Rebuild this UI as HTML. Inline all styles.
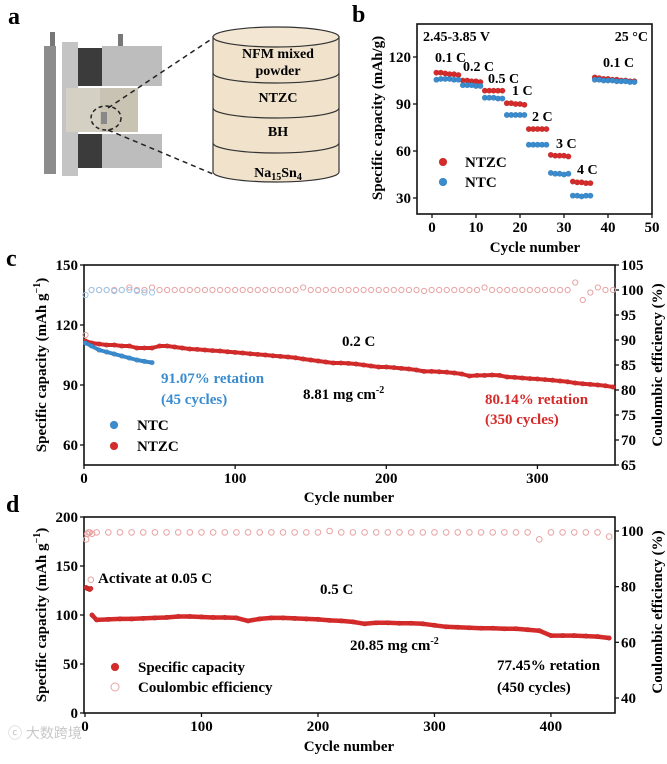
<!DOCTYPE html>
<html><head><meta charset="utf-8"><style>
html,body{margin:0;padding:0;background:#fff;}
svg{display:block;font-family:"Liberation Serif","Noto Serif CJK SC",serif;font-weight:bold;}
</style></head><body>
<svg id="fig" width="667" height="764" viewBox="0 0 667 764" xmlns="http://www.w3.org/2000/svg">
<g>
<text x="8" y="24" font-size="24">a</text>
<g>
<rect x="50" y="32" width="5" height="16" fill="#777"/>
<rect x="118" y="34" width="5" height="16" fill="#777"/>
<rect x="44" y="46" width="12" height="128" fill="#8c8c8c"/>
<rect x="62" y="42" width="16" height="134" fill="#c4c4c4"/>
<rect x="78" y="48" width="24" height="38" fill="#3b3b3b"/>
<rect x="102" y="46" width="60" height="40" fill="#bdbdbd"/>
<rect x="66" y="88" width="72" height="44" fill="#d5d0c4"/>
<rect x="100" y="88" width="38" height="44" fill="#c9c3b4"/>
<rect x="78" y="134" width="24" height="34" fill="#3b3b3b"/>
<rect x="102" y="134" width="60" height="34" fill="#bdbdbd"/>
<rect x="101" y="112" width="6" height="12" fill="#888"/>
<ellipse cx="106" cy="118" rx="15" ry="12" fill="none" stroke="#222" stroke-width="1.5" stroke-dasharray="4,3"/>
<line x1="108" y1="108" x2="213" y2="38" stroke="#222" stroke-width="1.5" stroke-dasharray="5,4"/>
<line x1="108" y1="130" x2="213" y2="174" stroke="#222" stroke-width="1.5" stroke-dasharray="5,4"/>
</g>
<g>
<path d="M213,37 L213,172 A63,10 0 0 0 339,172 L339,37 Z" fill="#f1e2cb" stroke="#333" stroke-width="1.2"/>
<ellipse cx="276" cy="37" rx="63" ry="10" fill="#f3e6d2" stroke="#333" stroke-width="1.2"/>
<path d="M213,73 A63,10 0 0 0 339,73" fill="none" stroke="#333" stroke-width="1.2"/>
<path d="M213,108 A63,10 0 0 0 339,108" fill="none" stroke="#333" stroke-width="1.2"/>
<path d="M213,143 A63,10 0 0 0 339,143" fill="none" stroke="#333" stroke-width="1.2"/>
<text x="278" y="58" font-size="14" text-anchor="middle">NFM mixed</text>
<text x="278" y="75" font-size="14" text-anchor="middle">powder</text>
<text x="278" y="102" font-size="14" text-anchor="middle">NTZC</text>
<text x="278" y="136" font-size="14" text-anchor="middle">BH</text>
<text x="278" y="177" font-size="14" text-anchor="middle">Na<tspan font-size="10" dy="3">15</tspan><tspan dy="-3">Sn</tspan><tspan font-size="10" dy="3">4</tspan></text>
</g>
</g>
<g id="pb"></g>
<g id="pc"></g>
<g id="pd"></g>
<text x="8" y="738" font-size="14" fill="#c8c8c8" font-weight="normal" style="font-family:'Liberation Sans','Noto Sans CJK SC',sans-serif">ⓒ 大数跨境</text>
</svg>
<script>
const bCycles = [1,2,3,4,5,6,7,8,9,10,11,12,13,14,15,16,17,18,19,20,21,22,23,24,25,26,27,28,29,30,31,32,33,34,35,36,37,38,39,40,41,42,43,44,45,46];
const bNTZC = [110,110,109.5,109,109,108.5,105,105,104.5,104.5,104,98.5,98.5,98.5,98.5,98.5,90.5,90.5,90,90,89.5,74,74,74,74,74,57.5,57,57,57,56.5,40.5,40,40,39.5,39.5,107,106.5,106,106,105.5,105.5,105,105,104.5,104.5];
const bNTC = [105.5,106,106,106,105.5,105.5,102,102,102,101.5,101.5,94,94,94,93.5,93.5,83,83,83,83,83,64,64,64,64,64,46,45.5,45.5,45,45.5,31.5,31.5,31,31.5,31.5,105.5,105.5,105,105,105,104.5,104.5,104.5,104,104];
const bXTicks = [0,10,20,30,40,50];
const bYTicks = [30,60,90,120];
const bRateLabels = ["0.1 C","0.2 C","0.5 C","1 C","2 C","3 C","4 C","0.1 C"];
const cNTZC = [112,111,110.5,110,110,109.5,109.5,108.5,108.5,108.5,109.5,109.5,109,108.5,108,107.8,107.5,107.2,107,106.6,106.3,106,105.6,105.3,105,104.6,104.3,104,103.6,103,102.5,102,101.5,101,101,100.8,100.5,100,99.5,99,99,98.7,98.3,98,97.5,96.8,96.8,96.6,96.4,96,95.5,94.5,94.8,94.8,95,94.8,94,93.8,93.5,93.2,93,92.7,92.4,92,91.6,91,90.6,90.3,90,89.6,89];
const cNTZC_CE = [91,100,100,100,100,100,100.5,100,100,100.5,100,100,100,100,100,100,100,100,100,100,100,100,100,100,100,100,100,100,100,100.5,100,100,100,100,100,100,100,100,100,100,100,100,100,100,100,99.8,100,100,100,100,100,100,100,100.5,100,100,100,100,100,100,100,100,100,100,100,101.5,98,99.5,100.5,100,100];
const cNTC = [111,109.5,107.5,106.5,105.5,104.5,103.5,102.5,101.8,101.2];
const cNTC_CE = [99,100,100,100,99.8,100,100,99.8,99.5,99.5];
const cXTicks = [0,100,200,300];
const cYTicks = [60,90,120,150];
const cY2Ticks = [65,70,75,80,85,90,95,100,105];
const dCycles = [1,2,3,4,5,6,10,20,30,40,50,60,70,80,90,100,110,120,130,140,150,160,170,180,190,200,210,220,230,240,250,260,270,280,290,300,310,320,330,340,350,360,370,380,390,400,410,420,430,440,450];
const dCap = [128,127,127,126,127,100,95,95.5,96,96,96.5,97,97.5,98.5,98.5,98,97.5,97.5,97,94,96,97,97,96.5,96,95.5,94.5,94,93,91,92,92,91.5,91.5,91,89.5,88,87.5,87,86.5,86.5,86,86,85,84,79,79,79,78.5,78,76.5];
const dCE = [97,99,99.5,99.5,82.5,99,99.5,99.5,99.5,99.5,99.5,99.5,99.5,99.5,99.5,99.5,99.5,99.5,99.5,99.5,99.5,99.5,99.5,99.5,99.5,99.5,100,99.5,99.5,99.5,99.5,99.5,99.5,99.5,99.5,99.5,99.5,99.5,99.5,99.5,99.5,99.5,99.5,99.5,97,99.5,99.5,99.5,99.5,99.5,98];
const dXTicks = [0,100,200,300,400];
const dYTicks = [0,50,100,150,200];
const dY2Ticks = [40,60,80,100];

const NS = "http://www.w3.org/2000/svg";
function mk(parent, tag, attrs, text){
  const e = document.createElementNS(NS, tag);
  for (const k in attrs) e.setAttribute(k, attrs[k]);
  if (text !== undefined) e.textContent = text;
  parent.appendChild(e);
  return e;
}
function scale(d0,d1,r0,r1){ return v => r0 + (v-d0)/(d1-d0)*(r1-r0); }
const RED="#d62b2b", BLUE="#3a8ccf", PINK="#e9a3a3", LBLUE="#9cc8e8";

function axesBox(g, L, T, R, B){
  const r = mk(g,'rect',{x:L,y:T,width:R-L,height:B-T,fill:'none',stroke:'#111','stroke-width':1.6});
  
  
}
function xTicks(g, ticks, xs, B, ty){
  ticks.forEach(t=>{
    mk(g,'line',{x1:xs(t),y1:B,x2:xs(t),y2:B+4,stroke:'#111','stroke-width':1.3});
    const tx = mk(g,'text',{x:xs(t),y:ty,'font-size':15,'text-anchor':'middle'},t);
    
    
  });
}
function yTicks(g, ticks, ys, L, side){
  ticks.forEach(t=>{
    const x2 = side==='left'? L-4 : L+4;
    mk(g,'line',{x1:L,y1:ys(t),x2:x2,y2:ys(t),stroke:'#111','stroke-width':1.3});
    const tx = mk(g,'text',{x: side==='left'? L-6 : L+6, y: ys(t)+5,'font-size':15,'text-anchor': side==='left'?'end':'start'},t);
    
    
  });
}
function label(g, x, y, txt, size, name, opts){
  const t = mk(g,'text',Object.assign({x:x,y:y,'font-size':size},opts||{}));
  t.innerHTML = txt;
  
  
  return t;
}
function dot(g, x, y, color, r, name){
  const c = mk(g,'circle',{cx:x,cy:y,r:r,fill:color,stroke:'rgba(0,0,0,0.15)','stroke-width':0.5});
  
  
}
function ring(g, x, y, color, r, name){
  const c = mk(g,'circle',{cx:x,cy:y,r:r,fill:'none',stroke:color,'stroke-width':1});
  
  
}
function band(g, pts, color, w, name){
  const p = mk(g,'polyline',{points:pts.map(p=>p[0].toFixed(1)+','+p[1].toFixed(1)).join(' '),fill:'none',stroke:color,'stroke-width':w,'stroke-linejoin':'round'});
  
  
}

(function(){
  const g = document.getElementById('pb');
  const L=417,R=652,T=24,B=214;
  const xs = scale(0,50,432,652), ys = scale(30,120,198,57);
  label(g,352,22,'b',24,'panel-label-b');
  axesBox(g,L,T,R,B);
  xTicks(g,bXTicks,xs,B,232);
  yTicks(g,bYTicks,ys,L,'left');
  label(g,535,252,'Cycle number',15,'x-axis-title',{'text-anchor':'middle'});
  label(g,0,0,'Specific capacity (mAh/g)',15,'y-axis-title',{'text-anchor':'middle',transform:'translate(382,118) rotate(-90)'});
  label(g,423,41,'2.45-3.85 V',14,'voltage-range-label');
  label(g,648,41,'25 °C',14,'temperature-label',{'text-anchor':'end'});
  bCycles.forEach((c,i)=>{ dot(g,xs(c),ys(bNTZC[i]),RED,2.8,'ntzc-rate-point'); });
  bCycles.forEach((c,i)=>{ dot(g,xs(c),ys(bNTC[i]),BLUE,2.8,'ntc-rate-point'); });
  const lp = [[435,62],[463,71],[488,83],[512,95],[532,121],[556,148],[577,174],[603,67]];
  bRateLabels.forEach((t,i)=>label(g,lp[i][0],lp[i][1],t,14,'rate-label'));
  dot(g,443,162,RED,4,'legend-marker-ntzc');
  label(g,465,167,'NTZC',15,'legend-label-ntzc');
  dot(g,443,182,BLUE,4,'legend-marker-ntc');
  label(g,465,187,'NTC',15,'legend-label-ntc');
})();

(function(){
  const g = document.getElementById('pc');
  const L=84,R=615,T=265,B=465;
  const xs = scale(0,350,84,613), ys = scale(50,150,465,265), ys2 = scale(65,105,465,265);
  label(g,6,266,'c',24,'panel-label-c');
  axesBox(g,L,T,R,B);
  xTicks(g,cXTicks,xs,B,483);
  yTicks(g,cY2Ticks,ys2,R,'right');
  yTicks(g,cYTicks,ys,L,'left');
  label(g,349,502,'Cycle number',15,'x-axis-title',{'text-anchor':'middle'});
  label(g,0,0,'Specific capacity (mAh g<tspan font-size="10" dy="-6">−1</tspan><tspan dy="6">)</tspan>',15,'y-axis-title',{'text-anchor':'middle',transform:'translate(46,365) rotate(-90)'});
  label(g,0,0,'Coulombic efficiency (%)',15,'y2-axis-title',{'text-anchor':'middle',transform:'translate(662,365) rotate(-90)'});
  const cyc = i => i===0 ? 1 : i*5;
  cNTZC_CE.forEach((v,i)=>ring(g,xs(cyc(i)),ys2(v),PINK,2.6,'ntzc-ce-point'));
  cNTC_CE.forEach((v,i)=>ring(g,xs(cyc(i)),ys2(v),LBLUE,2.6,'ntc-ce-point'));
  band(g,cNTZC.map((v,i)=>[xs(cyc(i)),ys(v)]),RED,4,'ntzc-capacity-line');
  cNTZC.forEach((v,i)=>dot(g,xs(cyc(i)),ys(v),RED,2.4,'ntzc-capacity-point'));
  band(g,cNTC.map((v,i)=>[xs(cyc(i)),ys(v)]),BLUE,4,'ntc-capacity-line');
  cNTC.forEach((v,i)=>dot(g,xs(cyc(i)),ys(v),BLUE,2.4,'ntc-capacity-point'));
  label(g,342,346,'0.2 C',15,'rate-label');
  label(g,161,383,'91.07% retation',15,'ntc-retention-label',{fill:BLUE});
  label(g,161,404,'(45 cycles)',15,'ntc-cycles-label',{fill:BLUE});
  label(g,303,399,'8.81 mg cm<tspan font-size="10" dy="-6">-2</tspan>',15,'loading-label');
  label(g,485,404,'80.14% retation',15,'ntzc-retention-label',{fill:RED});
  label(g,485,424,'(350 cycles)',15,'ntzc-cycles-label',{fill:RED});
  dot(g,114,425,BLUE,4,'legend-marker-ntc');
  label(g,137,430,'NTC',15,'legend-label-ntc');
  dot(g,114,446,RED,4,'legend-marker-ntzc');
  label(g,137,451,'NTZC',15,'legend-label-ntzc');
})();

(function(){
  const g = document.getElementById('pd');
  const L=84,R=615,T=517,B=713;
  const xs = scale(0,455,85,615), ys = scale(0,200,713,517), ys2 = scale(40,100,698,531);
  label(g,6,512,'d',24,'panel-label-d');
  axesBox(g,L,T,R,B);
  xTicks(g,dXTicks,xs,B,731);
  yTicks(g,dYTicks,ys,L,'left');
  yTicks(g,dY2Ticks,ys2,R,'right');
  label(g,349,751,'Cycle number',15,'x-axis-title',{'text-anchor':'middle'});
  label(g,0,0,'Specific capacity (mAh g<tspan font-size="10" dy="-6">−1</tspan><tspan dy="6">)</tspan>',15,'y-axis-title',{'text-anchor':'middle',transform:'translate(46,615) rotate(-90)'});
  label(g,0,0,'Coulombic efficiency (%)',15,'y2-axis-title',{'text-anchor':'middle',transform:'translate(662,612) rotate(-90)'});
  dCE.forEach((v,i)=>ring(g,xs(dCycles[i]),ys2(v),PINK,2.8,'ce-point'));
  band(g,dCap.slice(5).map((v,i)=>[xs(dCycles[i+5]),ys(v)]),RED,4.5,'capacity-line');
  dCap.forEach((v,i)=>dot(g,xs(dCycles[i]),ys(v),RED,2.4,'capacity-point'));
  label(g,98,583,'Activate at 0.05 C',15,'activation-label');
  label(g,320,594,'0.5 C',15,'rate-label');
  label(g,350,650,'20.85 mg cm<tspan font-size="10" dy="-6">-2</tspan>',15,'loading-label');
  label(g,497,670,'77.45% retation',15,'retention-label');
  label(g,497,692,'(450 cycles)',15,'cycles-label');
  dot(g,115,667,RED,4,'legend-marker-capacity');
  label(g,138,672,'Specific capacity',15,'legend-label-capacity');
  ring(g,115,687,PINK,4,'legend-marker-ce');
  label(g,138,692,'Coulombic efficiency',15,'legend-label-ce');
})();
</script>
</body></html>
